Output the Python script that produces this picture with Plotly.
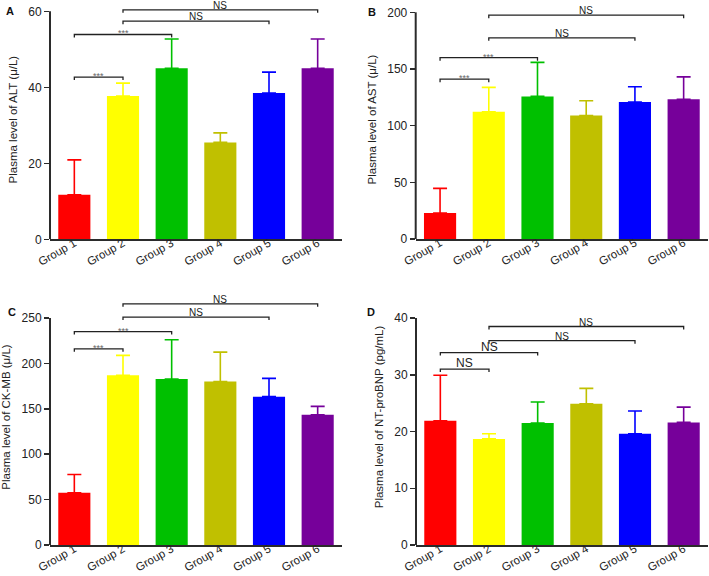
import plotly.graph_objects as go

groups = ["Group 1", "Group 2", "Group 3", "Group 4", "Group 5", "Group 6"]
colors = ["#FF0000", "#FFFF00", "#00C000", "#C0C000", "#0000FF", "#76009A"]

alt_mean = [11.7, 37.7, 45.0, 25.5, 38.5, 45.0]
alt_sd = [9.2, 3.4, 7.7, 2.5, 5.5, 7.7]
ast_mean = [22.9, 112.3, 125.8, 109.0, 120.8, 123.2]
ast_sd = [21.8, 21.5, 30.0, 13.0, 13.5, 19.8]
ck_mean = [57.5, 187.0, 182.7, 180.0, 163.4, 143.4]
ck_sd = [20.2, 21.8, 43.3, 32.4, 20.1, 9.3]
nt_mean = [21.9, 18.7, 21.5, 24.9, 19.6, 21.6]
nt_sd = [8.0, 0.9, 3.7, 2.7, 4.0, 2.7]

# brackets: (group i, group j, level, label)
alt_brackets = [(0, 1, 42.7, "***"), (0, 2, 53.9, "***"), (1, 4, 57.4, "NS"), (1, 5, 60.4, "NS")]
ast_brackets = [(0, 1, 141, "***"), (0, 2, 160, "***"), (1, 4, 177.5, "NS"), (1, 5, 197.5, "NS")]
ck_brackets = [(0, 1, 216, "***"), (0, 2, 235, "***"), (1, 4, 251, "NS"), (1, 5, 265.6, "NS")]
nt_brackets = [(0, 1, 31.0, "NS"), (0, 2, 33.9, "NS"), (1, 4, 36.0, "NS"), (1, 5, 38.5, "NS")]

alt_ticks = [0, 20, 40, 60]
ast_ticks = [0, 50, 100, 150, 200]
ck_ticks = [0, 50, 100, 150, 200, 250]
nt_ticks = [0, 10, 20, 30, 40]

W, H = 709, 576
FONT = "Arial, Liberation Sans, sans-serif"
AX = "#2b2b2b"


def px_x(v):
    return v / W


def px_y(v):
    return 1 - v / H


panels = [
    dict(letter="A", mean=alt_mean, sd=alt_sd, br=alt_brackets, ticks=alt_ticks,
         title="Plasma level of ALT (\u03bc/L)", xdom=[50, 342], ybot=239.3, ytop=0, ppu=3.8,
         lpos=(10, 11), big_ns=False),
    dict(letter="B", mean=ast_mean, sd=ast_sd, br=ast_brackets, ticks=ast_ticks,
         title="Plasma level of AST (\u03bc/L)", xdom=[415.7, 708], ybot=239, ytop=0, ppu=1.1335,
         lpos=(372, 12), big_ns=False),
    dict(letter="C", mean=ck_mean, sd=ck_sd, br=ck_brackets, ticks=ck_ticks,
         title="Plasma level of CK-MB (\u03bc/L)", xdom=[50, 342], ybot=545, ytop=289, ppu=0.908,
         lpos=(12, 312), big_ns=False),
    dict(letter="D", mean=nt_mean, sd=nt_sd, br=nt_brackets, ticks=nt_ticks,
         title="Plasma level of NT-proBNP (pg/mL)", xdom=[416, 708], ybot=545, ytop=289, ppu=5.675,
         lpos=(371, 312), big_ns=True),
]

fig = go.Figure()
layout = dict(width=W, height=H, margin=dict(l=0, r=0, t=0, b=0, autoexpand=False),
              paper_bgcolor="white", plot_bgcolor="white", showlegend=False,
              font=dict(family=FONT, color="#222", size=12))
shapes = []
annotations = []

for k, p in enumerate(panels):
    sfx = "" if k == 0 else str(k + 1)
    xa, ya = "x" + sfx, "y" + sfx
    top_val = (p["ybot"] - p["ytop"]) / p["ppu"]
    for i, g in enumerate(groups):
        fig.add_trace(go.Bar(
            x=[i], y=[p["mean"][i]], xaxis=xa, yaxis=ya, width=0.66,
            marker=dict(color=colors[i], line=dict(width=0)),
            error_y=dict(type="data", array=[p["sd"][i]], arrayminus=[0], symmetric=False,
                         color=colors[i], thickness=1.6, width=7),
            hoverinfo="skip"))
    layout["xaxis" + sfx] = dict(
        domain=[px_x(p["xdom"][0]), min(1.0, px_x(p["xdom"][1]))], anchor=ya, range=[-0.5, 5.5],
        tickvals=list(range(len(groups))), ticktext=groups, tickangle=-30,
        showline=True, linecolor=AX, linewidth=2, ticks="", showgrid=False, zeroline=False,
        tickfont=dict(size=11.5, color="#222"), fixedrange=True, automargin=False,
        ticklabelstandoff=-9)
    layout["yaxis" + sfx] = dict(
        domain=[px_y(p["ybot"]), px_y(p["ytop"])], anchor=xa, range=[0, top_val],
        tickvals=p["ticks"], showline=False, ticks="outside", ticklen=5, tickwidth=1.5,
        tickcolor=AX, showgrid=False, zeroline=False, tickfont=dict(size=12, color="#222"),
        automargin=False, fixedrange=True,
        title=dict(text=p["title"], font=dict(size=11.5, color="#222"), standoff=8))
    shapes.append(dict(type="line", xref=xa + " domain", yref=ya, x0=0, x1=0,
                       y0=0, y1=p["ticks"][-1], line=dict(color=AX, width=2)))
    d = 3.0 / p["ppu"]
    for (i, j, lvl, lab) in p["br"]:
        fig.add_trace(go.Scatter(
            x=[i, i, j, j], y=[lvl - d, lvl, lvl, lvl - d], xaxis=xa, yaxis=ya,
            mode="lines", line=dict(color="#222", width=1.3), hoverinfo="skip"))
        if lab == "***":
            annotations.append(dict(x=(i + j) / 2, y=lvl, xref=xa, yref=ya, text=lab,
                                    showarrow=False, yanchor="bottom", yshift=-6,
                                    font=dict(size=9, color="#666")))
        else:
            big = p["big_ns"] and i == 0
            annotations.append(dict(x=(i + j) / 2, y=lvl, xref=xa, yref=ya, text=lab,
                                    showarrow=False, yanchor="bottom", yshift=-3,
                                    font=dict(size=12 if big else 10, color="#222")))
    annotations.append(dict(x=px_x(p["lpos"][0]), y=px_y(p["lpos"][1]), xref="paper", yref="paper",
                            text="<b>" + p["letter"] + "</b>", showarrow=False,
                            xanchor="center", yanchor="middle", font=dict(size=11, color="#111")))

layout["shapes"] = shapes
layout["annotations"] = annotations
fig.update_layout(**layout)
fig.write_html(
    "out.html",
    config={"displayModeBar": False, "staticPlot": True},
    post_script="document.documentElement.style.margin='0';document.body.style.margin='0';"
                "document.body.style.overflow='hidden';")
